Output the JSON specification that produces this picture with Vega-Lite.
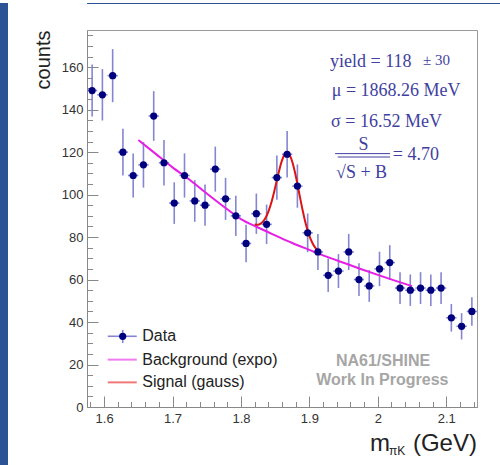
{
  "$schema": "https://vega.github.io/schema/vega-lite/v6.json",
  "padding": 0,
  "background": "white",
  "bounds": "flush",
  "spacing": 79,
  "config": {
    "view": {"stroke": "#999999", "strokeWidth": 1},
    "axis": {
      "grid": false,
      "domainColor": "#888888",
      "tickColor": "#888888",
      "labelFont": "Liberation Sans",
      "labelFontSize": 13,
      "labelColor": "#333333",
      "labelOverlap": false,
      "labelFlush": false,
      "titleFont": "Liberation Sans",
      "titleFontWeight": "normal",
      "titleColor": "#222222"
    }
  },
  "datasets": {
    "pts": [
      {"m": 1.5825, "n": 149, "lo": 136.8, "hi": 161.2, "xlo": 1.575, "xhi": 1.59},
      {"m": 1.5975, "n": 147, "lo": 134.9, "hi": 159.1, "xlo": 1.59, "xhi": 1.605},
      {"m": 1.6125, "n": 156, "lo": 143.5, "hi": 168.5, "xlo": 1.605, "xhi": 1.62},
      {"m": 1.6275, "n": 120, "lo": 109.0, "hi": 131.0, "xlo": 1.62, "xhi": 1.635},
      {"m": 1.6425, "n": 109, "lo": 98.6, "hi": 119.4, "xlo": 1.635, "xhi": 1.65},
      {"m": 1.6575, "n": 114, "lo": 103.3, "hi": 124.7, "xlo": 1.65, "xhi": 1.665},
      {"m": 1.6725, "n": 137, "lo": 125.3, "hi": 148.7, "xlo": 1.665, "xhi": 1.68},
      {"m": 1.6875, "n": 115, "lo": 104.3, "hi": 125.7, "xlo": 1.68, "xhi": 1.695},
      {"m": 1.7025, "n": 96, "lo": 86.2, "hi": 105.8, "xlo": 1.695, "xhi": 1.71},
      {"m": 1.7175, "n": 109, "lo": 98.6, "hi": 119.4, "xlo": 1.71, "xhi": 1.725},
      {"m": 1.7325, "n": 97, "lo": 87.2, "hi": 106.8, "xlo": 1.725, "xhi": 1.74},
      {"m": 1.7475, "n": 95, "lo": 85.3, "hi": 104.7, "xlo": 1.74, "xhi": 1.755},
      {"m": 1.7625, "n": 112, "lo": 101.4, "hi": 122.6, "xlo": 1.755, "xhi": 1.77},
      {"m": 1.7775, "n": 98, "lo": 88.1, "hi": 107.9, "xlo": 1.77, "xhi": 1.785},
      {"m": 1.7925, "n": 90, "lo": 80.5, "hi": 99.5, "xlo": 1.785, "xhi": 1.8},
      {"m": 1.8075, "n": 77, "lo": 68.2, "hi": 85.8, "xlo": 1.8, "xhi": 1.815},
      {"m": 1.8225, "n": 91, "lo": 81.5, "hi": 100.5, "xlo": 1.815, "xhi": 1.83},
      {"m": 1.8375, "n": 86, "lo": 76.7, "hi": 95.3, "xlo": 1.83, "xhi": 1.845},
      {"m": 1.8525, "n": 108, "lo": 97.6, "hi": 118.4, "xlo": 1.845, "xhi": 1.86},
      {"m": 1.8675, "n": 119, "lo": 108.1, "hi": 129.9, "xlo": 1.86, "xhi": 1.875},
      {"m": 1.8825, "n": 104, "lo": 93.8, "hi": 114.2, "xlo": 1.875, "xhi": 1.89},
      {"m": 1.8975, "n": 82, "lo": 72.9, "hi": 91.1, "xlo": 1.89, "xhi": 1.905},
      {"m": 1.9125, "n": 73, "lo": 64.5, "hi": 81.5, "xlo": 1.905, "xhi": 1.92},
      {"m": 1.9275, "n": 62, "lo": 54.1, "hi": 69.9, "xlo": 1.92, "xhi": 1.935},
      {"m": 1.9425, "n": 64, "lo": 56.0, "hi": 72.0, "xlo": 1.935, "xhi": 1.95},
      {"m": 1.9575, "n": 73, "lo": 64.5, "hi": 81.5, "xlo": 1.95, "xhi": 1.965},
      {"m": 1.9725, "n": 60, "lo": 52.3, "hi": 67.7, "xlo": 1.965, "xhi": 1.98},
      {"m": 1.9875, "n": 57, "lo": 49.5, "hi": 64.5, "xlo": 1.98, "xhi": 1.995},
      {"m": 2.0025, "n": 65, "lo": 56.9, "hi": 73.1, "xlo": 1.995, "xhi": 2.01},
      {"m": 2.0175, "n": 68, "lo": 59.8, "hi": 76.2, "xlo": 2.01, "xhi": 2.025},
      {"m": 2.0325, "n": 56, "lo": 48.5, "hi": 63.5, "xlo": 2.025, "xhi": 2.04},
      {"m": 2.0475, "n": 55, "lo": 47.6, "hi": 62.4, "xlo": 2.04, "xhi": 2.055},
      {"m": 2.0625, "n": 56, "lo": 48.5, "hi": 63.5, "xlo": 2.055, "xhi": 2.07},
      {"m": 2.0775, "n": 55, "lo": 47.6, "hi": 62.4, "xlo": 2.07, "xhi": 2.085},
      {"m": 2.0925, "n": 56, "lo": 48.5, "hi": 63.5, "xlo": 2.085, "xhi": 2.1},
      {"m": 2.1075, "n": 42, "lo": 35.5, "hi": 48.5, "xlo": 2.1, "xhi": 2.115},
      {"m": 2.1225, "n": 38, "lo": 31.8, "hi": 44.2, "xlo": 2.115, "xhi": 2.13},
      {"m": 2.1375, "n": 45, "lo": 38.3, "hi": 51.7, "xlo": 2.13, "xhi": 2.145}
    ],
    "bkg": [
      {"x": 1.65, "y": 125.7}, {"x": 1.675, "y": 119.3}, {"x": 1.7, "y": 112.8},
      {"x": 1.725, "y": 107.0}, {"x": 1.75, "y": 100.5}, {"x": 1.775, "y": 94.3},
      {"x": 1.8, "y": 88.5}, {"x": 1.825, "y": 84.5}, {"x": 1.85, "y": 80.8},
      {"x": 1.875, "y": 77.2}, {"x": 1.9, "y": 74.0}, {"x": 1.925, "y": 70.8},
      {"x": 1.95, "y": 67.9}, {"x": 1.975, "y": 65.0}, {"x": 2.0, "y": 62.2},
      {"x": 2.025, "y": 59.5}, {"x": 2.05, "y": 56.9}
    ],
    "sig": [
      {"x": 1.82, "y": 85.9}, {"x": 1.825, "y": 85.8}, {"x": 1.83, "y": 86.6},
      {"x": 1.835, "y": 88.5}, {"x": 1.84, "y": 91.9}, {"x": 1.845, "y": 96.9},
      {"x": 1.85, "y": 103.3}, {"x": 1.855, "y": 110.2}, {"x": 1.86, "y": 116.1},
      {"x": 1.865, "y": 119.4}, {"x": 1.8683, "y": 119.8}, {"x": 1.87, "y": 119.3},
      {"x": 1.875, "y": 115.5}, {"x": 1.88, "y": 109.0}, {"x": 1.885, "y": 100.9},
      {"x": 1.89, "y": 92.9}, {"x": 1.895, "y": 85.9}, {"x": 1.9, "y": 80.6},
      {"x": 1.905, "y": 76.9}, {"x": 1.91, "y": 74.4}, {"x": 1.915, "y": 72.9}
    ],
    "blank": [{}]
  },
  "hconcat": [
    {
      "width": 8,
      "height": 465,
      "view": {"fill": "#2c5494", "stroke": null},
      "data": {"name": "blank"},
      "mark": {"type": "point", "opacity": 0},
      "encoding": {}
    },
    {
      "spacing": 26,
      "bounds": "flush",
      "vconcat": [
        {
          "width": 413,
          "height": 1,
          "view": {"fill": "#2c5494", "stroke": null},
          "data": {"name": "blank"},
          "mark": {"type": "point", "opacity": 0},
          "encoding": {}
        },
        {
          "width": 390,
          "height": 377,
          "resolve": {"axis": {"x": "independent", "y": "independent"}},
          "layer": [
            {
              "layer": [
                {
                  "data": {"name": "pts"},
                  "mark": {"type": "rule", "color": "#8585d3", "strokeWidth": 1.6},
                  "encoding": {
                    "x": {
                      "field": "m", "type": "quantitative",
                      "scale": {"domain": [1.575, 2.145], "nice": false, "zero": false},
                      "axis": {
                        "title": null,
                        "orient": "bottom",
                        "values": [1.6, 1.7, 1.8, 1.9, 2.0, 2.1],
                        "format": "~g",
                        "tickSize": -11,
                        "labelPadding": 16
                      }
                    },
                    "y": {
                      "field": "lo", "type": "quantitative",
                      "scale": {"domain": [0, 177.5], "nice": false},
                      "axis": {
                        "title": "counts",
                        "orient": "left",
                        "titleFontSize": 20,
                        "titleAnchor": "end",
                        "titlePadding": 8,
                        "values": [0, 20, 40, 60, 80, 100, 120, 140, 160],
                        "tickSize": -11,
                        "labelPadding": 15
                      }
                    },
                    "y2": {"field": "hi"}
                  }
                },
                {
                  "data": {"name": "pts"},
                  "mark": {"type": "rule", "color": "#8585d3", "strokeWidth": 1.6},
                  "encoding": {
                    "x": {"field": "xlo", "type": "quantitative"},
                    "x2": {"field": "xhi"},
                    "y": {"field": "n", "type": "quantitative"}
                  }
                },
                {
                  "data": {"name": "bkg"},
                  "mark": {"type": "line", "color": "#e61ee6", "strokeWidth": 2, "interpolate": "monotone"},
                  "encoding": {
                    "x": {"field": "x", "type": "quantitative"},
                    "y": {"field": "y", "type": "quantitative"}
                  }
                },
                {
                  "data": {"name": "sig"},
                  "mark": {"type": "line", "color": "#dd1414", "strokeWidth": 2, "interpolate": "monotone"},
                  "encoding": {
                    "x": {"field": "x", "type": "quantitative"},
                    "y": {"field": "y", "type": "quantitative"}
                  }
                },
                {
                  "data": {"name": "pts"},
                  "mark": {"type": "point", "filled": true, "opacity": 1, "color": "#00007f", "size": 52, "shape": "circle"},
                  "encoding": {
                    "x": {"field": "m", "type": "quantitative"},
                    "y": {"field": "n", "type": "quantitative"}
                  }
                },
                {
                  "data": {"name": "blank"},
                  "mark": {"type": "rule", "color": "#8585d3", "strokeWidth": 1.6},
                  "encoding": {"x": {"datum": 1.6053}, "x2": {"datum": 1.6477}, "y": {"datum": 33.3}}
                },
                {
                  "data": {"name": "blank"},
                  "mark": {"type": "rule", "color": "#8585d3", "strokeWidth": 1.6},
                  "encoding": {"x": {"datum": 1.6272}, "y": {"datum": 30.1}, "y2": {"datum": 36.3}}
                },
                {
                  "data": {"name": "blank"},
                  "mark": {"type": "point", "filled": true, "opacity": 1, "color": "#00007f", "size": 52, "shape": "circle"},
                  "encoding": {"x": {"datum": 1.6272}, "y": {"datum": 33.3}}
                },
                {
                  "data": {"name": "blank"},
                  "mark": {"type": "rule", "color": "#f07cf0", "strokeWidth": 2},
                  "encoding": {"x": {"datum": 1.6053}, "x2": {"datum": 1.6477}, "y": {"datum": 22.3}}
                },
                {
                  "data": {"name": "blank"},
                  "mark": {"type": "rule", "color": "#f07878", "strokeWidth": 2},
                  "encoding": {"x": {"datum": 1.6053}, "x2": {"datum": 1.6477}, "y": {"datum": 11.6}}
                },
                {
                  "data": {"name": "blank"},
                  "mark": {"type": "text", "text": "Data", "font": "Liberation Sans", "fontSize": 16, "color": "#222222", "align": "left", "baseline": "middle"},
                  "encoding": {"x": {"datum": 1.6558}, "y": {"datum": 33.3}}
                },
                {
                  "data": {"name": "blank"},
                  "mark": {"type": "text", "text": "Background (expo)", "font": "Liberation Sans", "fontSize": 16, "color": "#222222", "align": "left", "baseline": "middle"},
                  "encoding": {"x": {"datum": 1.6558}, "y": {"datum": 22.3}}
                },
                {
                  "data": {"name": "blank"},
                  "mark": {"type": "text", "text": "Signal (gauss)", "font": "Liberation Sans", "fontSize": 16, "color": "#222222", "align": "left", "baseline": "middle"},
                  "encoding": {"x": {"datum": 1.6558}, "y": {"datum": 11.6}}
                },
                {
                  "data": {"name": "blank"},
                  "mark": {"type": "text", "text": "NA61/SHINE", "font": "Liberation Sans", "fontWeight": "bold", "fontSize": 16, "color": "#a6a6a6", "align": "center", "baseline": "middle"},
                  "encoding": {"x": {"datum": 2.0077}, "y": {"datum": 21.5}}
                },
                {
                  "data": {"name": "blank"},
                  "mark": {"type": "text", "text": "Work In Progress", "font": "Liberation Sans", "fontWeight": "bold", "fontSize": 16, "color": "#a6a6a6", "align": "center", "baseline": "middle"},
                  "encoding": {"x": {"datum": 2.0067}, "y": {"datum": 12.9}}
                },
                {
                  "data": {"name": "blank"},
                  "mark": {"type": "text", "text": "yield = 118", "font": "Liberation Serif", "fontSize": 18, "color": "#3f3fa0", "align": "left", "baseline": "alphabetic"},
                  "encoding": {"x": {"datum": 1.9303}, "y": {"datum": 160.1}}
                },
                {
                  "data": {"name": "blank"},
                  "mark": {"type": "text", "text": "± 30", "font": "Liberation Serif", "fontSize": 15, "color": "#3f3fa0", "align": "left", "baseline": "alphabetic"},
                  "encoding": {"x": {"datum": 2.0662}, "y": {"datum": 160.8}}
                },
                {
                  "data": {"name": "blank"},
                  "mark": {"type": "text", "text": "μ = 1868.26 MeV", "font": "Liberation Serif", "fontSize": 18, "color": "#3f3fa0", "align": "left", "baseline": "alphabetic"},
                  "encoding": {"x": {"datum": 1.9327}, "y": {"datum": 146.6}}
                },
                {
                  "data": {"name": "blank"},
                  "mark": {"type": "text", "text": "σ = 16.52 MeV", "font": "Liberation Serif", "fontSize": 18, "color": "#3f3fa0", "align": "left", "baseline": "alphabetic"},
                  "encoding": {"x": {"datum": 1.9317}, "y": {"datum": 131.7}}
                },
                {
                  "data": {"name": "blank"},
                  "mark": {"type": "text", "text": "S", "font": "Liberation Serif", "fontSize": 18, "color": "#3f3fa0", "align": "center", "baseline": "alphabetic"},
                  "encoding": {"x": {"datum": 1.979}, "y": {"datum": 121.1}}
                },
                {
                  "data": {"name": "blank"},
                  "mark": {"type": "rule", "color": "#3f3fa0", "strokeWidth": 1},
                  "encoding": {"x": {"datum": 1.9376}, "x2": {"datum": 2.018}, "y": {"datum": 119.3}}
                },
                {
                  "data": {"name": "blank"},
                  "mark": {"type": "rule", "color": "#3f3fa0", "strokeWidth": 1},
                  "encoding": {"x": {"datum": 1.9415}, "x2": {"datum": 2.018}, "y": {"datum": 117.7}}
                },
                {
                  "data": {"name": "blank"},
                  "mark": {"type": "text", "text": "√S + B", "font": "Liberation Serif", "fontSize": 18, "color": "#3f3fa0", "align": "left", "baseline": "alphabetic"},
                  "encoding": {"x": {"datum": 1.939}, "y": {"datum": 107.8}}
                },
                {
                  "data": {"name": "blank"},
                  "mark": {"type": "text", "text": "= 4.70", "font": "Liberation Serif", "fontSize": 18, "color": "#3f3fa0", "align": "left", "baseline": "alphabetic"},
                  "encoding": {"x": {"datum": 2.022}, "y": {"datum": 116.1}}
                },
                {
                  "data": {"name": "blank"},
                  "mark": {"type": "text", "text": "m", "font": "Liberation Sans", "fontSize": 24, "color": "#222222", "align": "left", "baseline": "alphabetic"},
                  "encoding": {"x": {"datum": 1.9887}, "y": {"datum": -20.7}}
                },
                {
                  "data": {"name": "blank"},
                  "mark": {"type": "text", "text": "πK", "font": "Liberation Sans", "fontSize": 12, "color": "#222222", "align": "left", "baseline": "alphabetic"},
                  "encoding": {"x": {"datum": 2.0165}, "y": {"datum": -22.6}}
                },
                {
                  "data": {"name": "blank"},
                  "mark": {"type": "text", "text": "(GeV)", "font": "Liberation Sans", "fontSize": 24, "color": "#222222", "align": "right", "baseline": "alphabetic"},
                  "encoding": {"x": {"datum": 2.1449}, "y": {"datum": -20.7}}
                }
              ]
            },
            {
              "data": {"name": "pts"},
              "mark": {"type": "point", "opacity": 0},
              "encoding": {
                "x": {
                  "field": "m", "type": "quantitative",
                  "axis": {
                    "title": null,
                    "orient": "bottom",
                    "domain": false,
                    "labels": false,
                    "values": [1.58, 1.62, 1.64, 1.66, 1.68, 1.72, 1.74, 1.76, 1.78, 1.82, 1.84, 1.86, 1.88, 1.92, 1.94, 1.96, 1.98, 2.02, 2.04, 2.06, 2.08, 2.12, 2.14],
                    "tickSize": -5.5
                  }
                },
                "y": {
                  "field": "n", "type": "quantitative",
                  "axis": {
                    "title": null,
                    "orient": "left",
                    "domain": false,
                    "labels": false,
                    "values": [5, 10, 15, 25, 30, 35, 45, 50, 55, 65, 70, 75, 85, 90, 95, 105, 110, 115, 125, 130, 135, 145, 150, 155, 165, 170, 175],
                    "tickSize": -5.5
                  }
                }
              }
            }
          ]
        }
      ]
    }
  ]
}
